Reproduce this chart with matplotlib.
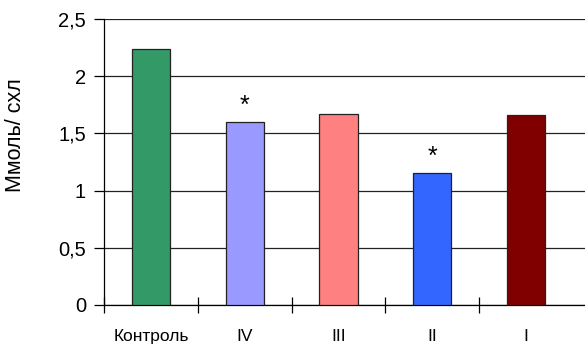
import matplotlib
matplotlib.use('Agg')
import matplotlib.pyplot as plt
import numpy as np

plt.rcParams['font.family'] = ['Liberation Sans', 'DejaVu Sans']

# data
groups = ['Контроль', 'IV', 'III', 'II', 'I']
values = [2.24, 1.60, 1.67, 1.15, 1.66]
colors = ['#339966', '#9999FF', '#FF8080', '#3366FF', '#800000']
marked = [False, True, False, True, False]
y_ticks = [0, 0.5, 1, 1.5, 2, 2.5]
y_labels = ['0', '0,5', '1', '1,5', '2', '2,5']

fig = plt.figure(figsize=(5.85, 3.45), dpi=100)
ax = fig.add_axes([0.178, 0.116, 0.822, 0.829])

x = np.arange(len(groups))
ax.bar(x, values, width=0.41, color=colors, edgecolor='#222222', linewidth=0.9, zorder=3)

# significance marks
for xi, v, m in zip(x, values, marked):
    if m:
        ax.text(xi, v + 0.04, '*', ha='center', va='bottom', fontsize=18, zorder=4)

ax.set_xlim(-0.5, 4.63)
ax.set_ylim(0, 2.5)

ax.set_yticks(y_ticks)
ax.set_yticklabels(y_labels, fontsize=14.5)
ax.yaxis.grid(True, color='#222222', linewidth=0.9, zorder=0)

ax.set_xticks(x)
ax.set_xticklabels(groups, fontsize=12.5)
ax.set_xticks(np.arange(-0.5, 4.0, 1), minor=True)
ax.tick_params(axis='x', which='major', length=0, pad=17)
ax.tick_params(axis='x', which='minor', direction='inout', length=12, width=0.9)
ax.tick_params(axis='y', direction='out', length=7, width=0.9, pad=6)

for s in ['top', 'right']:
    ax.spines[s].set_visible(False)
ax.spines['left'].set_linewidth(0.9)
ax.spines['bottom'].set_linewidth(0.9)

ax.set_ylabel('Ммоль/ схл', fontsize=15.5)
ax.yaxis.set_label_coords(-0.163, 0.595)

fig.savefig('out.png', dpi=100)
